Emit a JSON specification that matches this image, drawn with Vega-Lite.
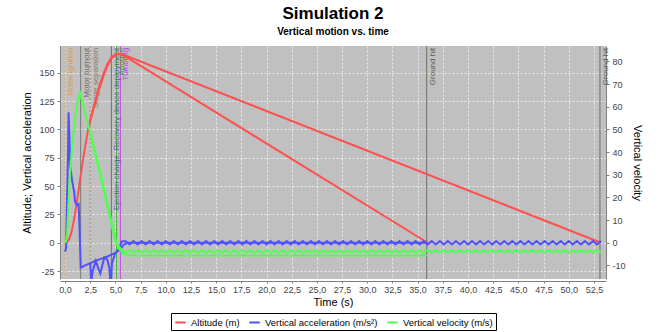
{
"$schema":"https://vega.github.io/schema/vega-lite/v6.json",
"width":546,"height":233,
"autosize":{"type":"none"},
"padding":{"left":60,"top":46,"right":53,"bottom":53},
"background":"white",
"title":{"text":"Simulation 2","subtitle":"Vertical motion vs. time","anchor":"middle","offset":8,"fontSize":17,"font":"Liberation Sans","fontWeight":"bold","color":"#000","subtitleFontSize":10,"subtitleFont":"Liberation Sans","subtitleFontWeight":"bold","subtitleColor":"#000","subtitlePadding":4},
"datasets":{
"events":[{"t":0.0,"e":"Motor ignition"},{"t":1.55,"e":"Motor burnout"},{"t":2.5,"e":"Stage separation"},{"t":4.6,"e":"Ejection charge, Recovery device deployment"},{"t":5.1,"e":"Apogee"},{"t":5.5,"e":"Tumbling"},{"t":35.9,"e":"Ground hit"},{"t":53.1,"e":"Ground hit"}],
"alt":[
{"t":0,"v":0,"r":"A"},{"t":0.2,"v":0.5,"r":"A"},{"t":0.4,"v":3,"r":"A"},{"t":0.6,"v":8,"r":"A"},{"t":0.8,"v":16,"r":"A"},{"t":1.0,"v":26,"r":"A"},{"t":1.2,"v":37,"r":"A"},{"t":1.4,"v":50,"r":"A"},{"t":1.6,"v":62,"r":"A"},{"t":1.8,"v":74,"r":"A"},{"t":2.0,"v":85,"r":"A"},{"t":2.3,"v":100,"r":"A"},{"t":2.6,"v":112,"r":"A"},{"t":3.0,"v":125,"r":"A"},{"t":3.4,"v":138,"r":"A"},{"t":3.8,"v":149,"r":"A"},{"t":4.2,"v":157.5,"r":"A"},{"t":4.6,"v":163.5,"r":"A"},{"t":5.1,"v":167,"r":"A"},{"t":5.6,"v":166.5,"r":"A"},{"t":6.5,"v":161.5,"r":"A"},{"t":36.0,"v":0,"r":"A"},
{"t":2.3,"v":100,"r":"B"},{"t":2.6,"v":111,"r":"B"},{"t":3.0,"v":123.5,"r":"B"},{"t":3.4,"v":136,"r":"B"},{"t":3.8,"v":147,"r":"B"},{"t":4.2,"v":156,"r":"B"},{"t":4.6,"v":162.5,"r":"B"},{"t":5.1,"v":166.5,"r":"B"},{"t":5.6,"v":166.5,"r":"B"},{"t":6.5,"v":163.5,"r":"B"},{"t":53.2,"v":0,"r":"B"}],
"acc":[
{"t":0.0,"v":-8,"r":"A"},{"t":0.1,"v":-5,"r":"A"},{"t":0.2,"v":40,"r":"A"},{"t":0.3,"v":80,"r":"A"},{"t":0.35,"v":115,"r":"A"},{"t":0.45,"v":90,"r":"A"},{"t":0.5,"v":68,"r":"A"},{"t":0.7,"v":55,"r":"A"},{"t":0.9,"v":45,"r":"A"},{"t":1.0,"v":36,"r":"A"},{"t":1.2,"v":33,"r":"A"},{"t":1.35,"v":34,"r":"A"},{"t":1.45,"v":10,"r":"A"},{"t":1.55,"v":-22,"r":"A"},{"t":2.0,"v":-20,"r":"A"},{"t":2.5,"v":-18,"r":"A"},{"t":3.0,"v":-16,"r":"A"},{"t":3.5,"v":-14.5,"r":"A"},{"t":4.0,"v":-13,"r":"A"},{"t":4.5,"v":-11,"r":"A"},{"t":5.0,"v":-9,"r":"A"},{"t":5.5,"v":-6,"r":"A"},{"t":5.8,"v":-2,"r":"A"},{"t":6.2,"v":0,"r":"A"},{"t":36.0,"v":0,"r":"A"},
{"t":2.5,"v":-18,"r":"B"},{"t":2.6,"v":-34,"r":"B"},{"t":2.75,"v":-25,"r":"B"},{"t":3.05,"v":-16,"r":"B"},{"t":3.35,"v":-24,"r":"B"},{"t":3.5,"v":-27,"r":"B"},{"t":3.9,"v":-13,"r":"B"},{"t":4.2,"v":-15,"r":"B"},{"t":4.4,"v":-22,"r":"B"},{"t":4.55,"v":-40,"r":"B"},{"t":4.65,"v":-18,"r":"B"},{"t":5.0,"v":-9,"r":"B"},{"t":5.4,"v":-5,"r":"B"},{"t":5.6,"v":1,"r":"B"},
{"t":6.0,"v":1.5,"r":"B"},{"t":6.4,"v":-1.5,"r":"B"},{"t":6.8,"v":1.5,"r":"B"},{"t":7.2,"v":-1.5,"r":"B"},{"t":7.6,"v":1.5,"r":"B"},{"t":8.0,"v":-1.5,"r":"B"},{"t":8.4,"v":1.5,"r":"B"},{"t":8.8,"v":-1.5,"r":"B"},{"t":9.2,"v":1.5,"r":"B"},{"t":9.6,"v":-1.5,"r":"B"},{"t":10.0,"v":1.5,"r":"B"},{"t":10.4,"v":-1.5,"r":"B"},{"t":10.8,"v":1.5,"r":"B"},{"t":11.2,"v":-1.5,"r":"B"},{"t":11.6,"v":1.5,"r":"B"},{"t":12.0,"v":-1.5,"r":"B"},{"t":12.4,"v":1.5,"r":"B"},{"t":12.8,"v":-1.5,"r":"B"},{"t":13.2,"v":1.5,"r":"B"},{"t":13.6,"v":-1.5,"r":"B"},{"t":14.0,"v":1.5,"r":"B"},{"t":14.4,"v":-1.5,"r":"B"},{"t":14.8,"v":1.5,"r":"B"},{"t":15.2,"v":-1.5,"r":"B"},{"t":15.6,"v":1.5,"r":"B"},{"t":16.0,"v":-1.5,"r":"B"},{"t":16.4,"v":1.5,"r":"B"},{"t":16.8,"v":-1.5,"r":"B"},{"t":17.2,"v":1.5,"r":"B"},{"t":17.6,"v":-1.5,"r":"B"},{"t":18.0,"v":1.5,"r":"B"},{"t":18.4,"v":-1.5,"r":"B"},{"t":18.8,"v":1.5,"r":"B"},{"t":19.2,"v":-1.5,"r":"B"},{"t":19.6,"v":1.5,"r":"B"},{"t":20.0,"v":-1.5,"r":"B"},{"t":20.4,"v":1.5,"r":"B"},{"t":20.8,"v":-1.5,"r":"B"},{"t":21.2,"v":1.5,"r":"B"},{"t":21.6,"v":-1.5,"r":"B"},{"t":22.0,"v":1.5,"r":"B"},{"t":22.4,"v":-1.5,"r":"B"},{"t":22.8,"v":1.5,"r":"B"},{"t":23.2,"v":-1.5,"r":"B"},{"t":23.6,"v":1.5,"r":"B"},{"t":24.0,"v":-1.5,"r":"B"},{"t":24.4,"v":1.5,"r":"B"},{"t":24.8,"v":-1.5,"r":"B"},{"t":25.2,"v":1.5,"r":"B"},{"t":25.6,"v":-1.5,"r":"B"},{"t":26.0,"v":1.5,"r":"B"},{"t":26.4,"v":-1.5,"r":"B"},{"t":26.8,"v":1.5,"r":"B"},{"t":27.2,"v":-1.5,"r":"B"},{"t":27.6,"v":1.5,"r":"B"},{"t":28.0,"v":-1.5,"r":"B"},{"t":28.4,"v":1.5,"r":"B"},{"t":28.8,"v":-1.5,"r":"B"},{"t":29.2,"v":1.5,"r":"B"},{"t":29.6,"v":-1.5,"r":"B"},{"t":30.0,"v":1.5,"r":"B"},{"t":30.4,"v":-1.5,"r":"B"},{"t":30.8,"v":1.5,"r":"B"},{"t":31.2,"v":-1.5,"r":"B"},{"t":31.6,"v":1.5,"r":"B"},{"t":32.0,"v":-1.5,"r":"B"},{"t":32.4,"v":1.5,"r":"B"},{"t":32.8,"v":-1.5,"r":"B"},{"t":33.2,"v":1.5,"r":"B"},{"t":33.6,"v":-1.5,"r":"B"},{"t":34.0,"v":1.5,"r":"B"},{"t":34.4,"v":-1.5,"r":"B"},{"t":34.8,"v":1.5,"r":"B"},{"t":35.2,"v":-1.5,"r":"B"},{"t":35.6,"v":1.5,"r":"B"},{"t":36.0,"v":-1.5,"r":"B"},{"t":36.4,"v":1.5,"r":"B"},{"t":36.8,"v":-1.5,"r":"B"},{"t":37.2,"v":1.5,"r":"B"},{"t":37.6,"v":-1.5,"r":"B"},{"t":38.0,"v":1.5,"r":"B"},{"t":38.4,"v":-1.5,"r":"B"},{"t":38.8,"v":1.5,"r":"B"},{"t":39.2,"v":-1.5,"r":"B"},{"t":39.6,"v":1.5,"r":"B"},{"t":40.0,"v":-1.5,"r":"B"},{"t":40.4,"v":1.5,"r":"B"},{"t":40.8,"v":-1.5,"r":"B"},{"t":41.2,"v":1.5,"r":"B"},{"t":41.6,"v":-1.5,"r":"B"},{"t":42.0,"v":1.5,"r":"B"},{"t":42.4,"v":-1.5,"r":"B"},{"t":42.8,"v":1.5,"r":"B"},{"t":43.2,"v":-1.5,"r":"B"},{"t":43.6,"v":1.5,"r":"B"},{"t":44.0,"v":-1.5,"r":"B"},{"t":44.4,"v":1.5,"r":"B"},{"t":44.8,"v":-1.5,"r":"B"},{"t":45.2,"v":1.5,"r":"B"},{"t":45.6,"v":-1.5,"r":"B"},{"t":46.0,"v":1.5,"r":"B"},{"t":46.4,"v":-1.5,"r":"B"},{"t":46.8,"v":1.5,"r":"B"},{"t":47.2,"v":-1.5,"r":"B"},{"t":47.6,"v":1.5,"r":"B"},{"t":48.0,"v":-1.5,"r":"B"},{"t":48.4,"v":1.5,"r":"B"},{"t":48.8,"v":-1.5,"r":"B"},{"t":49.2,"v":1.5,"r":"B"},{"t":49.6,"v":-1.5,"r":"B"},{"t":50.0,"v":1.5,"r":"B"},{"t":50.4,"v":-1.5,"r":"B"},{"t":50.8,"v":1.5,"r":"B"},{"t":51.2,"v":-1.5,"r":"B"},{"t":51.6,"v":1.5,"r":"B"},{"t":52.0,"v":-1.5,"r":"B"},{"t":52.4,"v":1.5,"r":"B"},{"t":52.8,"v":-1.5,"r":"B"},{"t":53.2,"v":1.5,"r":"B"}],
"vel":[
{"t":0.0,"v":0,"r":"A"},{"t":0.1,"v":0.5,"r":"A"},{"t":0.2,"v":4,"r":"A"},{"t":0.3,"v":13,"r":"A"},{"t":0.4,"v":23,"r":"A"},{"t":0.5,"v":31,"r":"A"},{"t":0.6,"v":37,"r":"A"},{"t":0.8,"v":47,"r":"A"},{"t":1.0,"v":55,"r":"A"},{"t":1.2,"v":61,"r":"A"},{"t":1.4,"v":65,"r":"A"},{"t":1.5,"v":66,"r":"A"},{"t":2.0,"v":57,"r":"A"},{"t":2.5,"v":48.5,"r":"A"},{"t":3.0,"v":40,"r":"A"},{"t":3.5,"v":31,"r":"A"},{"t":4.0,"v":21.5,"r":"A"},{"t":4.5,"v":11.5,"r":"A"},{"t":5.1,"v":0,"r":"A"},{"t":5.4,"v":-3,"r":"A"},{"t":5.8,"v":-4.8,"r":"A"},{"t":6.2,"v":-5.4,"r":"A"},{"t":6.6,"v":-5.6,"r":"A"},{"t":36.0,"v":-5.6,"r":"A"},
{"t":2.5,"v":48.5,"r":"B"},{"t":3.0,"v":39,"r":"B"},{"t":3.5,"v":29.5,"r":"B"},{"t":4.0,"v":20,"r":"B"},{"t":4.5,"v":10,"r":"B"},{"t":5.0,"v":0.5,"r":"B"},{"t":5.4,"v":-2,"r":"B"},{"t":5.7,"v":-3.3,"r":"B"},
{"t":6.0,"v":-4.3,"r":"B"},{"t":6.4,"v":-3.3,"r":"B"},{"t":6.8,"v":-4.3,"r":"B"},{"t":7.2,"v":-3.3,"r":"B"},{"t":7.6,"v":-4.3,"r":"B"},{"t":8.0,"v":-3.3,"r":"B"},{"t":8.4,"v":-4.3,"r":"B"},{"t":8.8,"v":-3.3,"r":"B"},{"t":9.2,"v":-4.3,"r":"B"},{"t":9.6,"v":-3.3,"r":"B"},{"t":10.0,"v":-4.3,"r":"B"},{"t":10.4,"v":-3.3,"r":"B"},{"t":10.8,"v":-4.3,"r":"B"},{"t":11.2,"v":-3.3,"r":"B"},{"t":11.6,"v":-4.3,"r":"B"},{"t":12.0,"v":-3.3,"r":"B"},{"t":12.4,"v":-4.3,"r":"B"},{"t":12.8,"v":-3.3,"r":"B"},{"t":13.2,"v":-4.3,"r":"B"},{"t":13.6,"v":-3.3,"r":"B"},{"t":14.0,"v":-4.3,"r":"B"},{"t":14.4,"v":-3.3,"r":"B"},{"t":14.8,"v":-4.3,"r":"B"},{"t":15.2,"v":-3.3,"r":"B"},{"t":15.6,"v":-4.3,"r":"B"},{"t":16.0,"v":-3.3,"r":"B"},{"t":16.4,"v":-4.3,"r":"B"},{"t":16.8,"v":-3.3,"r":"B"},{"t":17.2,"v":-4.3,"r":"B"},{"t":17.6,"v":-3.3,"r":"B"},{"t":18.0,"v":-4.3,"r":"B"},{"t":18.4,"v":-3.3,"r":"B"},{"t":18.8,"v":-4.3,"r":"B"},{"t":19.2,"v":-3.3,"r":"B"},{"t":19.6,"v":-4.3,"r":"B"},{"t":20.0,"v":-3.3,"r":"B"},{"t":20.4,"v":-4.3,"r":"B"},{"t":20.8,"v":-3.3,"r":"B"},{"t":21.2,"v":-4.3,"r":"B"},{"t":21.6,"v":-3.3,"r":"B"},{"t":22.0,"v":-4.3,"r":"B"},{"t":22.4,"v":-3.3,"r":"B"},{"t":22.8,"v":-4.3,"r":"B"},{"t":23.2,"v":-3.3,"r":"B"},{"t":23.6,"v":-4.3,"r":"B"},{"t":24.0,"v":-3.3,"r":"B"},{"t":24.4,"v":-4.3,"r":"B"},{"t":24.8,"v":-3.3,"r":"B"},{"t":25.2,"v":-4.3,"r":"B"},{"t":25.6,"v":-3.3,"r":"B"},{"t":26.0,"v":-4.3,"r":"B"},{"t":26.4,"v":-3.3,"r":"B"},{"t":26.8,"v":-4.3,"r":"B"},{"t":27.2,"v":-3.3,"r":"B"},{"t":27.6,"v":-4.3,"r":"B"},{"t":28.0,"v":-3.3,"r":"B"},{"t":28.4,"v":-4.3,"r":"B"},{"t":28.8,"v":-3.3,"r":"B"},{"t":29.2,"v":-4.3,"r":"B"},{"t":29.6,"v":-3.3,"r":"B"},{"t":30.0,"v":-4.3,"r":"B"},{"t":30.4,"v":-3.3,"r":"B"},{"t":30.8,"v":-4.3,"r":"B"},{"t":31.2,"v":-3.3,"r":"B"},{"t":31.6,"v":-4.3,"r":"B"},{"t":32.0,"v":-3.3,"r":"B"},{"t":32.4,"v":-4.3,"r":"B"},{"t":32.8,"v":-3.3,"r":"B"},{"t":33.2,"v":-4.3,"r":"B"},{"t":33.6,"v":-3.3,"r":"B"},{"t":34.0,"v":-4.3,"r":"B"},{"t":34.4,"v":-3.3,"r":"B"},{"t":34.8,"v":-4.3,"r":"B"},{"t":35.2,"v":-3.3,"r":"B"},{"t":35.6,"v":-4.3,"r":"B"},{"t":36.0,"v":-3.3,"r":"B"},{"t":36.4,"v":-4.3,"r":"B"},{"t":36.8,"v":-3.3,"r":"B"},{"t":37.2,"v":-4.3,"r":"B"},{"t":37.6,"v":-3.3,"r":"B"},{"t":38.0,"v":-4.3,"r":"B"},{"t":38.4,"v":-3.3,"r":"B"},{"t":38.8,"v":-4.3,"r":"B"},{"t":39.2,"v":-3.3,"r":"B"},{"t":39.6,"v":-4.3,"r":"B"},{"t":40.0,"v":-3.3,"r":"B"},{"t":40.4,"v":-4.3,"r":"B"},{"t":40.8,"v":-3.3,"r":"B"},{"t":41.2,"v":-4.3,"r":"B"},{"t":41.6,"v":-3.3,"r":"B"},{"t":42.0,"v":-4.3,"r":"B"},{"t":42.4,"v":-3.3,"r":"B"},{"t":42.8,"v":-4.3,"r":"B"},{"t":43.2,"v":-3.3,"r":"B"},{"t":43.6,"v":-4.3,"r":"B"},{"t":44.0,"v":-3.3,"r":"B"},{"t":44.4,"v":-4.3,"r":"B"},{"t":44.8,"v":-3.3,"r":"B"},{"t":45.2,"v":-4.3,"r":"B"},{"t":45.6,"v":-3.3,"r":"B"},{"t":46.0,"v":-4.3,"r":"B"},{"t":46.4,"v":-3.3,"r":"B"},{"t":46.8,"v":-4.3,"r":"B"},{"t":47.2,"v":-3.3,"r":"B"},{"t":47.6,"v":-4.3,"r":"B"},{"t":48.0,"v":-3.3,"r":"B"},{"t":48.4,"v":-4.3,"r":"B"},{"t":48.8,"v":-3.3,"r":"B"},{"t":49.2,"v":-4.3,"r":"B"},{"t":49.6,"v":-3.3,"r":"B"},{"t":50.0,"v":-4.3,"r":"B"},{"t":50.4,"v":-3.3,"r":"B"},{"t":50.8,"v":-4.3,"r":"B"},{"t":51.2,"v":-3.3,"r":"B"},{"t":51.6,"v":-4.3,"r":"B"},{"t":52.0,"v":-3.3,"r":"B"},{"t":52.4,"v":-4.3,"r":"B"},{"t":52.8,"v":-3.3,"r":"B"},{"t":53.2,"v":-4.3,"r":"B"}]
},
"layer":[
{"layer":[
{"data":{"name":"events"},"mark":{"type":"rule","strokeWidth":1},
 "encoding":{
  "x":{"field":"t","type":"quantitative","scale":{"domain":[-0.5,53.7],"nice":false,"zero":false},
   "axis":{"title":"Time (s)","values":[0,2.5,5,7.5,10,12.5,15,17.5,20,22.5,25,27.5,30,32.5,35,37.5,40,42.5,45,47.5,50,52.5],"tickCount":50,"format":".1f","offset":2,"grid":true,"tickSize":2,"labelPadding":2,"titlePadding":2,"labelOverlap":false,"labelFlush":false,"labelBound":false}},
  "stroke":{"field":"e","type":"nominal","legend":null,"scale":{"domain":["Motor ignition","Motor burnout","Stage separation","Ejection charge, Recovery device deployment","Apogee","Tumbling","Ground hit"],"range":["#e8a040","#7a7a7a","#9a8a70","#6a6aa8","#40b040","#c050e0","#6e6e6e"]}},
  "strokeDash":{"field":"e","type":"nominal","legend":null,"scale":{"domain":["Motor ignition","Motor burnout","Stage separation","Ejection charge, Recovery device deployment","Apogee","Tumbling","Ground hit"],"range":[[2,2],[1,0],[2,2],[1,0],[1,0],[1,0],[1,0]]}}
 }},
{"data":{"name":"events"},"mark":{"type":"text","angle":270,"align":"right","baseline":"top","dy":2,"fontSize":8,"font":"Liberation Sans"},
 "encoding":{
  "x":{"field":"t","type":"quantitative"},
  "y":{"datum":172,"type":"quantitative"},
  "text":{"field":"e"},
  "fill":{"field":"e","type":"nominal","legend":null,"scale":{"domain":["Motor ignition","Motor burnout","Stage separation","Ejection charge, Recovery device deployment","Apogee","Tumbling","Ground hit"],"range":["#e09a40","#6a6a6a","#8a7a66","#5a5a98","#30a030","#c040e0","#5a5a5a"]}}
 }},
{"data":{"name":"alt"},"mark":{"type":"line","strokeWidth":2,"clip":true},
 "encoding":{
  "x":{"field":"t","type":"quantitative"},
  "y":{"field":"v","type":"quantitative","scale":{"domain":[-32,173.6],"nice":false,"zero":false},
   "axis":{"title":"Altitude; Vertical acceleration","values":[-25,0,25,50,75,100,125,150],"tickCount":50,"grid":true,"orient":"left","labelOverlap":false,"labelFlush":false,"labelBound":false}},
  "detail":{"field":"r"},
  "color":{"datum":"Altitude (m)","type":"nominal"}
 }},
{"data":{"name":"acc"},"mark":{"type":"line","strokeWidth":2,"clip":true},
 "encoding":{
  "x":{"field":"t","type":"quantitative"},
  "y":{"field":"v","type":"quantitative"},
  "detail":{"field":"r"},
  "color":{"datum":"Vertical acceleration (m/s²)","type":"nominal"}
 }}
]},
{"data":{"name":"vel"},"mark":{"type":"line","strokeWidth":2,"clip":true},
 "encoding":{
  "x":{"field":"t","type":"quantitative"},
  "y":{"field":"v","type":"quantitative","scale":{"domain":[-16,86.8],"nice":false,"zero":false},
   "axis":{"title":"Vertical velocity","values":[-10,0,10,20,30,40,50,60,70,80],"tickCount":50,"grid":false,"orient":"right","labelOverlap":false,"labelFlush":false}},
  "detail":{"field":"r"},
  "color":{"datum":"Vertical velocity (m/s)","type":"nominal","scale":{"domain":["Altitude (m)","Vertical acceleration (m/s²)","Vertical velocity (m/s)"],"range":["#ff5050","#5050ff","#50ff50"]}}
 }}
],
"resolve":{"scale":{"y":"independent"}},
"config":{
 "locale":{"number":{"decimal":",","thousands":".","grouping":[3],"currency":["","€"],"minus":"-"}},
 "view":{"fill":"#c0c0c0","stroke":null},
 "font":"Liberation Sans",
 "axis":{"labelFont":"Liberation Sans","labelFontSize":9,"labelColor":"#444","labelOverlap":false,"labelFlush":false,"titleFont":"Liberation Sans","titleFontSize":11,"titleFontWeight":"normal","titleColor":"#000","domainColor":"#808080","tickColor":"#808080","tickSize":3,"gridColor":"#ffffff","gridDash":[2,2],"gridOpacity":0.7,"labelPadding":3,"titlePadding":6},
 "legend":{"orient":"bottom","direction":"horizontal","title":null,"strokeColor":"#000","padding":3,"symbolType":"stroke","symbolStrokeWidth":2,"symbolSize":110,"labelFont":"Liberation Sans","labelFontSize":9.5,"labelColor":"#000","columnPadding":5,"offset":6,"labelLimit":300,"layout":{"bottom":{"anchor":"middle"}}}
}
}
